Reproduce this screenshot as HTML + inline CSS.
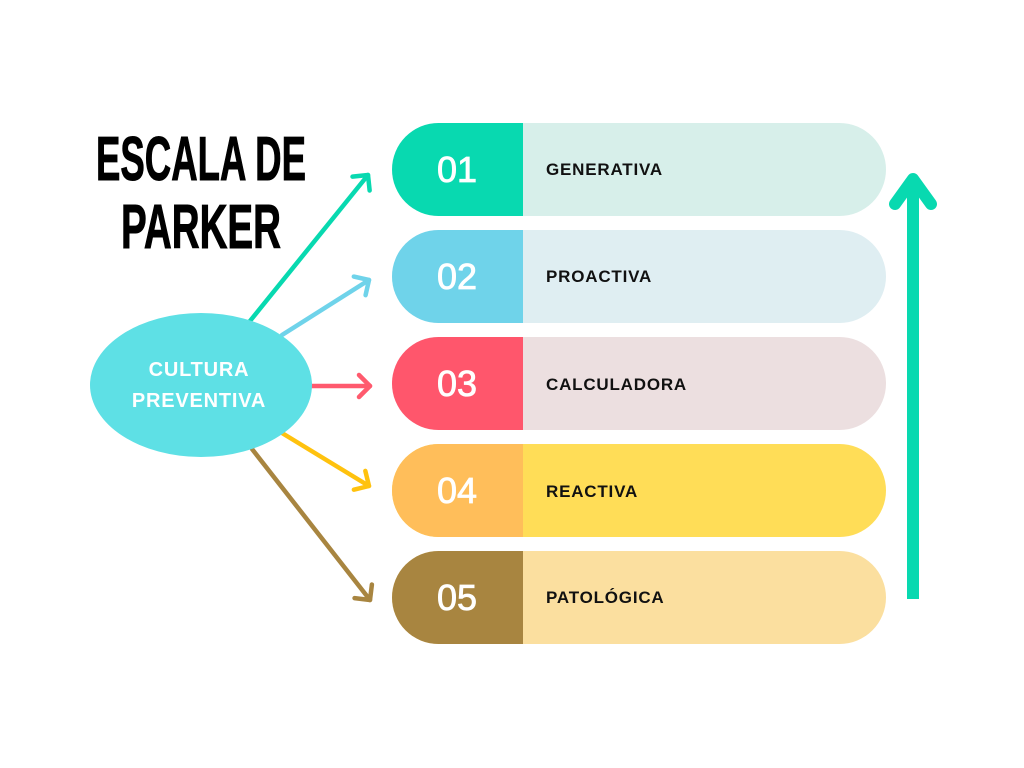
<!DOCTYPE html>
<html><head><meta charset="utf-8"><style>
html,body{margin:0;padding:0;background:#fff;}
svg{display:block}
</style></head><body>
<svg width="1024" height="768" viewBox="0 0 1024 768" xmlns="http://www.w3.org/2000/svg">
<defs>
<marker id="mg" markerUnits="userSpaceOnUse" markerWidth="30" markerHeight="30" refX="15" refY="14" orient="auto"><path d="M4,3 L15,14 L4,25" fill="none" stroke="#08d9b0" stroke-width="4.5" stroke-linecap="round" stroke-linejoin="round"/></marker>
<marker id="mb" markerUnits="userSpaceOnUse" markerWidth="30" markerHeight="30" refX="15" refY="14" orient="auto"><path d="M4,3 L15,14 L4,25" fill="none" stroke="#6fd3ea" stroke-width="4.5" stroke-linecap="round" stroke-linejoin="round"/></marker>
<marker id="mr" markerUnits="userSpaceOnUse" markerWidth="30" markerHeight="30" refX="15" refY="14" orient="auto"><path d="M4,3 L15,14 L4,25" fill="none" stroke="#ff5a6e" stroke-width="4.5" stroke-linecap="round" stroke-linejoin="round"/></marker>
<marker id="my" markerUnits="userSpaceOnUse" markerWidth="30" markerHeight="30" refX="15" refY="14" orient="auto"><path d="M4,3 L15,14 L4,25" fill="none" stroke="#ffc20e" stroke-width="4.5" stroke-linecap="round" stroke-linejoin="round"/></marker>
<marker id="mn" markerUnits="userSpaceOnUse" markerWidth="30" markerHeight="30" refX="15" refY="14" orient="auto"><path d="M4,3 L15,14 L4,25" fill="none" stroke="#a88540" stroke-width="4.5" stroke-linecap="round" stroke-linejoin="round"/></marker>
</defs>

<g font-family="'Liberation Sans Narrow','Liberation Sans',sans-serif" font-weight="bold" font-size="62" fill="#000" stroke="#000" stroke-width="1">
<text x="96" y="180" textLength="210" lengthAdjust="spacingAndGlyphs">ESCALA DE</text>
<text x="121" y="248" textLength="160" lengthAdjust="spacingAndGlyphs">PARKER</text>
</g>

<g stroke-width="4.5" stroke-linecap="round" fill="none">
<line x1="250" y1="321" x2="368" y2="175" stroke="#08d9b0" marker-end="url(#mg)"/>
<line x1="282" y1="335" x2="369" y2="280" stroke="#6fd3ea" marker-end="url(#mb)"/>
<line x1="310" y1="386" x2="370" y2="386" stroke="#ff5a6e" marker-end="url(#mr)"/>
<line x1="282" y1="433" x2="369" y2="486" stroke="#ffc20e" marker-end="url(#my)"/>
<line x1="252" y1="449" x2="370" y2="600" stroke="#a88540" marker-end="url(#mn)"/>
</g>

<ellipse cx="201" cy="385" rx="111" ry="72" fill="#5ee0e5"/>
<g font-family="'Liberation Sans',sans-serif" font-weight="bold" font-size="20" fill="#fff" text-anchor="middle">
<text x="199" y="376" letter-spacing="0.8">CULTURA</text>
<text x="199" y="407" letter-spacing="0.8">PREVENTIVA</text>
</g>

<g>
<rect x="392" y="123" width="494" height="93" rx="46.5" fill="#d7efea"/>
<path d="M438.5,123 H523 V216 H438.5 A46.5,46.5 0 0 1 438.5,123 Z" fill="#08d9b0"/>
<rect x="392" y="230" width="494" height="93" rx="46.5" fill="#dfeef2"/>
<path d="M438.5,230 H523 V323 H438.5 A46.5,46.5 0 0 1 438.5,230 Z" fill="#6fd3ea"/>
<rect x="392" y="337" width="494" height="93" rx="46.5" fill="#ecdfe0"/>
<path d="M438.5,337 H523 V430 H438.5 A46.5,46.5 0 0 1 438.5,337 Z" fill="#ff566c"/>
<rect x="392" y="444" width="494" height="93" rx="46.5" fill="#ffdd57"/>
<path d="M438.5,444 H523 V537 H438.5 A46.5,46.5 0 0 1 438.5,444 Z" fill="#ffbe5a"/>
<rect x="392" y="551" width="494" height="93" rx="46.5" fill="#fbdf9f"/>
<path d="M438.5,551 H523 V644 H438.5 A46.5,46.5 0 0 1 438.5,551 Z" fill="#a88540"/>
</g>

<g font-family="'Liberation Sans',sans-serif" font-size="36" fill="#fff" stroke="#fff" stroke-width="0.8" text-anchor="middle">
<text x="457" y="182">01</text>
<text x="457" y="289">02</text>
<text x="457" y="396">03</text>
<text x="457" y="503">04</text>
<text x="457" y="610">05</text>
</g>
<g font-family="'Liberation Sans',sans-serif" font-weight="bold" font-size="17" fill="#111" letter-spacing="0.8">
<text x="546" y="175">GENERATIVA</text>
<text x="546" y="282">PROACTIVA</text>
<text x="546" y="390">CALCULADORA</text>
<text x="546" y="497">REACTIVA</text>
<text x="546" y="603">PATOLÓGICA</text>
</g>

<g stroke="#08d9b0" fill="none" stroke-width="12">
<line x1="913" y1="599" x2="913" y2="182"/>
<polyline points="895,204 913,179 931,204" stroke-linecap="round" stroke-linejoin="round"/>
</g>
</svg>
</body></html>
